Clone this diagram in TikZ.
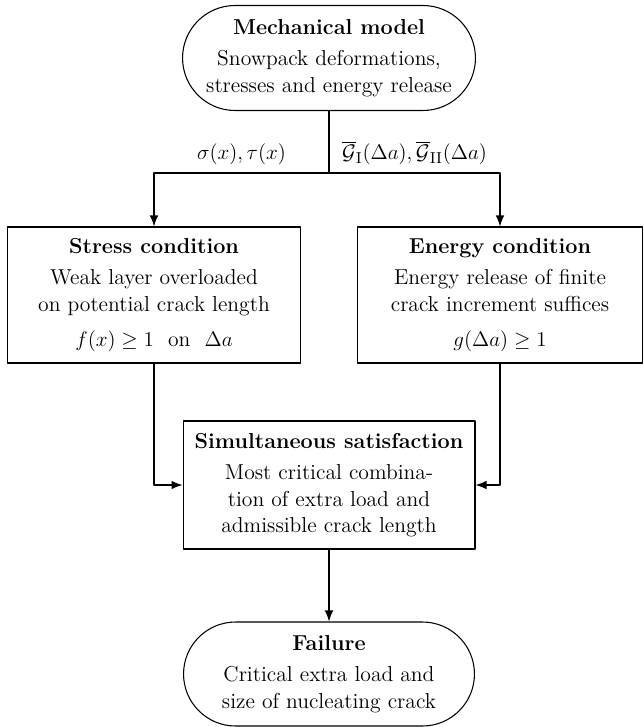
\documentclass[tikz,border=0pt]{standalone}
\usepackage{amssymb,amsmath}
\usepackage{tikz}
\usetikzlibrary{arrows.meta,shapes.misc,positioning,calc}

\tikzset{
  box/.style={draw,rectangle,align=center,inner sep=2pt},
  capsule/.style={draw,rounded rectangle,align=center,inner sep=2pt},
  flow/.style={-{Latex[length=2.2mm,width=1.7mm]}},
  txt/.style={font=\fontsize{12.3}{15}\selectfont}
}

\begin{document}
\begin{tikzpicture}[line cap=round,line join=round,x=0.02cm,y=-0.02cm,line width=0.6pt,txt]
\useasboundingbox (0,0) rectangle (644,727);
% start and end
\node[capsule,minimum width=6cm,minimum height=2.1cm] (mech) at (329,58)
  {\textbf{Mechanical model}\\[3pt] Snowpack deformations,\\ stresses and energy release};
\node[capsule,minimum width=5.96cm,minimum height=2.08cm] (fail) at (329,674)
  {\textbf{Failure}\\[3pt] Critical extra load and\\ size of nucleating crack};
% the two conditions
\node[box,minimum width=5.86cm,minimum height=2.72cm] (stress) at (154,295)
  {\textbf{Stress condition}\\[3pt] Weak layer overloaded\\ on potential crack length\\[5pt] $f(x)\geq 1$ \ on \ $\Delta a$};
\node[box,minimum width=5.7cm,minimum height=2.72cm] (energy) at (500,295)
  {\textbf{Energy condition}\\[3pt] Energy release of finite\\ crack increment suffices\\[5pt] $g(\Delta a)\geq 1$};
\node[box,minimum width=5.84cm,minimum height=2.56cm] (sim) at (329,485)
  {\textbf{Simultaneous satisfaction}\\[3pt] Most critical combina-\\ tion of extra load and\\ admissible crack length};
\coordinate (split) at (mech.south |- 0,173);
\draw (mech.south) -- (split);
\draw[flow] (split) -| node[pos=0.25,above=1pt] {$\sigma(x),\tau(x)$} (stress.north);
\draw[flow] (split) -| node[pos=0.25,above=1pt] {$\overline{\mathcal{G}}_{\mathrm{I}}(\Delta a),\overline{\mathcal{G}}_{\mathrm{II}}(\Delta a)$} (energy.north);
\draw[flow] (stress.south) |- (sim.west);
\draw[flow] (energy.south) |- (sim.east);
\draw[flow] (sim.south) -- (fail.north);
\end{tikzpicture}
\end{document}
